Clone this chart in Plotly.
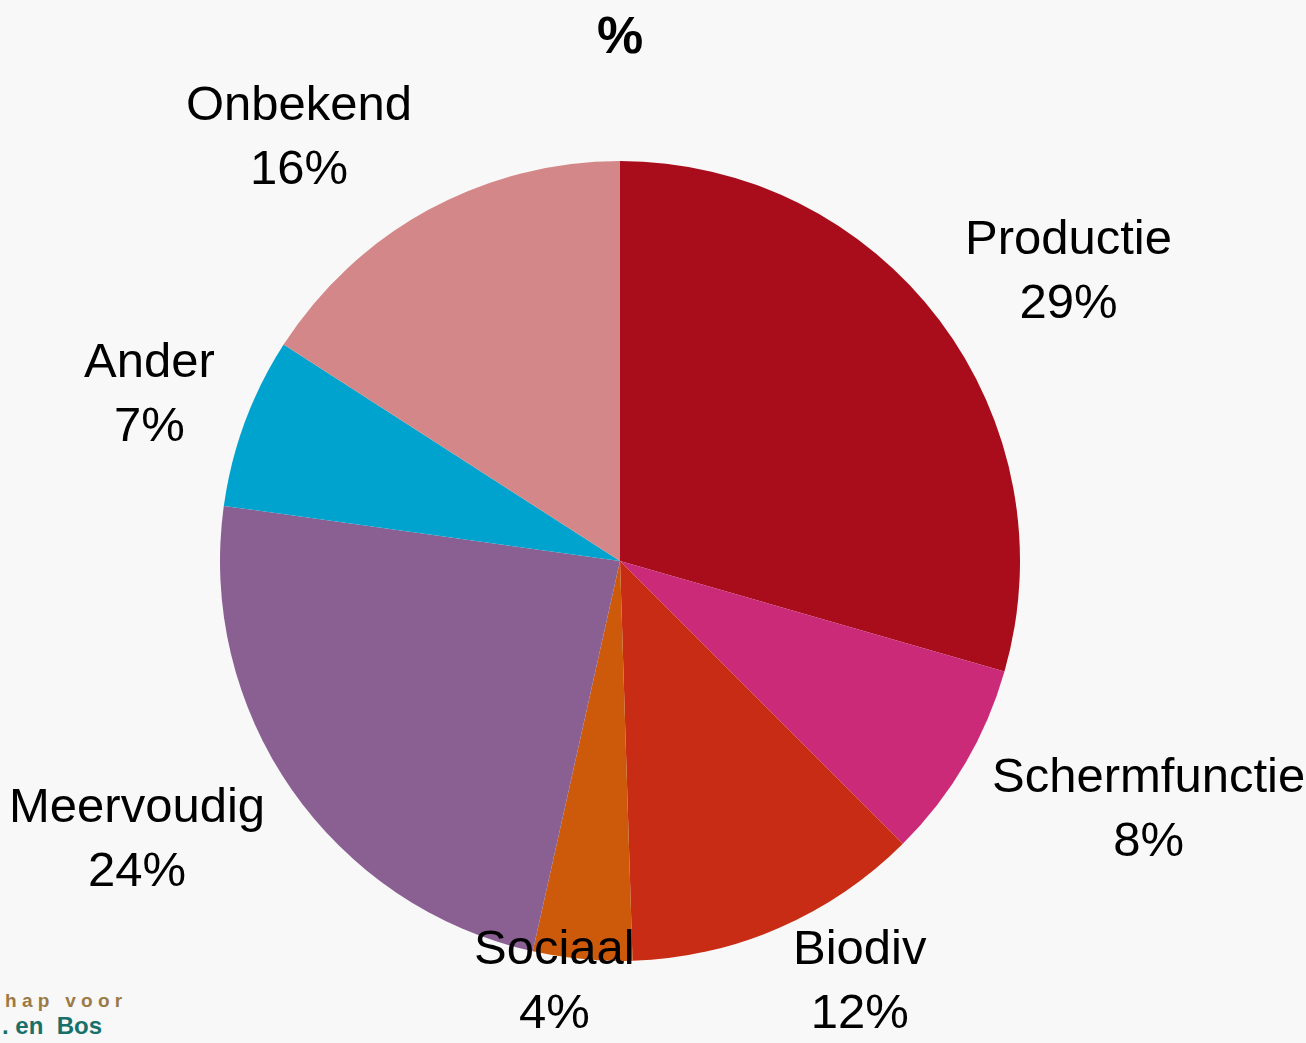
import math
import plotly.graph_objects as go

labels = ["Productie", "Schermfunctie", "Biodiv", "Sociaal", "Meervoudig", "Ander", "Onbekend"]
values = [29.45, 8.05, 12.0, 4.0, 23.7, 6.9, 15.9]
colors = ["#a90c1b", "#cb2a79", "#c92c14", "#cc5a0a", "#8a5f92", "#00a3cd", "#d48788"]
title_text = "%"

W, H = 1306, 1043
cx, cy, r = 620, 561, 400
FONT = "Liberation Sans, Arial, sans-serif"
FS = 49
label_gap = 30
box_h = 110

fig = go.Figure(go.Pie(
    labels=labels, values=values, sort=False, direction="clockwise", rotation=0,
    marker=dict(colors=colors, line=dict(width=0)),
    textinfo="none",
    domain=dict(x=[(cx - r) / W, (cx + r) / W], y=[1 - (cy + r) / H, 1 - (cy - r) / H]),
    showlegend=False, hoverinfo="label+percent",
))

# outside-end data labels, positioned from the slice angles
total = sum(values)
cum = 0.0
for lab, v in zip(labels, values):
    theta = 2 * math.pi * (cum + v / 2) / total
    cum += v
    s, c = math.sin(theta), math.cos(theta)
    R = r + label_gap
    px = cx + R * s
    py = cy - R * c - (box_h / 2) * c
    py = min(py, H - 64)
    xshift = 0
    if abs(s) < 0.3:
        xa = "center"
        est_w = len(lab) * 0.46 * FS
        xshift = (est_w / 2) * (s / 0.3)
    else:
        xa = "left" if s > 0 else "right"
    fig.add_annotation(text=f"{lab}<br>{v:.0f}%", x=px / W, y=1 - py / H, xref="paper", yref="paper",
                       xanchor=xa, yanchor="middle", align="center", showarrow=False, xshift=xshift,
                       font=dict(family=FONT, size=FS, color="#000000"))

fig.add_annotation(text=f"<b>{title_text}</b>", x=620 / W, y=1 - 35 / H, xref="paper", yref="paper",
                   xanchor="center", yanchor="middle",
                   showarrow=False, font=dict(family=FONT, size=52, color="#000000"))
fig.add_annotation(text="<b>h a p   v o o r</b>", x=3 / W, y=1 - 1000 / H, xref="paper", yref="paper",
                   xanchor="left", yanchor="middle",
                   showarrow=False, font=dict(family=FONT, size=19, color="#9b7a45"))
fig.add_annotation(text="<b>. en  Bos</b>", x=0, y=1 - 1041 / H, xref="paper", yref="paper",
                   xanchor="left", yanchor="bottom", showarrow=False,
                   font=dict(family=FONT, size=24, color="#17706a"))

fig.update_layout(width=W, height=H, margin=dict(l=0, r=0, t=0, b=0),
                  paper_bgcolor="#f8f8f8", plot_bgcolor="#f8f8f8")
fig.write_html("out.html", config={"displayModeBar": False},
               post_script="document.body.style.margin='0';document.body.style.overflow='hidden';")
